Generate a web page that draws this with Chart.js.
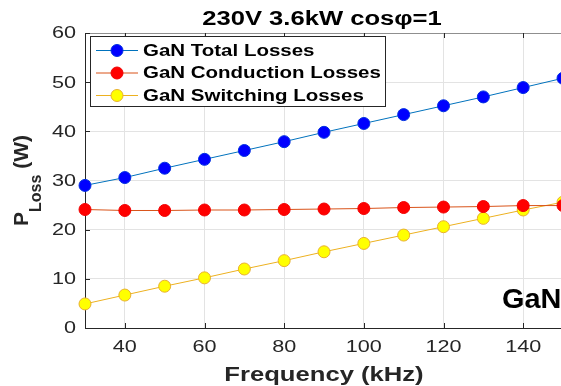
<!DOCTYPE html>
<html>
<head>
<meta charset="utf-8">
<script src="https://cdn.jsdelivr.net/npm/chart.js@4/dist/chart.umd.min.js"></script>
<style>
  html, body { margin: 0; padding: 0; background: #fff; overflow: hidden; }
  #wrap { width: 563px; height: 386px; }
</style>
</head>
<body>
<div id="wrap"><canvas id="c" width="563" height="386"></canvas></div>
<script>
/* ===== data ===== */
const freq = [30, 40, 50, 60, 70, 80, 90, 100, 110, 120, 130, 140, 150];
const totalLoss = [29.0, 30.6, 32.5, 34.3, 36.1, 37.9, 39.8, 41.6, 43.4, 45.2, 47.0, 48.9, 50.8];
const condLoss  = [24.1, 23.9, 23.9, 24.0, 24.0, 24.1, 24.2, 24.3, 24.5, 24.6, 24.7, 24.9, 24.9];
const swLoss    = [4.9, 6.7, 8.5, 10.2, 12.0, 13.7, 15.5, 17.2, 18.9, 20.6, 22.3, 24.0, 25.6];

const seriesNames = ["GaN Total Losses", "GaN Conduction Losses", "GaN Switching Losses"];
const xTicks = [40, 60, 80, 100, 120, 140];
const yTicks = [0, 10, 20, 30, 40, 50, 60];

const FONT = '"Liberation Sans", Arial, Helvetica, sans-serif';
const AXC = "#262626";

function pts(ys) {
  return freq.map((f, i) => ({ x: f, y: ys[i] }));
}

function ds(label, ys, line, fill, edge) {
  return {
    label: label,
    data: pts(ys),
    borderColor: line,
    borderWidth: 1,
    pointRadius: 6,
    pointBackgroundColor: fill,
    pointBorderColor: edge,
    pointBorderWidth: 1,
    clip: false,
    tension: 0
  };
}

// text stretched horizontally (the original renders wide glyphs)
function wideText(ctx, str, x, y, sx, align) {
  ctx.save();
  ctx.translate(x, y);
  ctx.scale(sx, 1);
  ctx.textAlign = align || "left";
  ctx.fillText(str, 0, 0);
  ctx.restore();
}

/* ===== extra drawing: frame, ticks, titles, legend ===== */
const decor = {
  id: "decor",
  beforeDatasetsDraw(chart) {
    const { ctx, chartArea: a, scales } = chart;
    ctx.save();
    // top box line
    ctx.strokeStyle = "#8f8f8f";
    ctx.lineWidth = 1;
    ctx.beginPath();
    ctx.moveTo(a.left, a.top + 0.5);
    ctx.lineTo(a.right, a.top + 0.5);
    ctx.stroke();
    // inward ticks
    ctx.strokeStyle = AXC;
    ctx.beginPath();
    xTicks.forEach(v => {
      const px = Math.round(scales.x.getPixelForValue(v)) + 0.5;
      ctx.moveTo(px, a.bottom); ctx.lineTo(px, a.bottom - 5);
      ctx.moveTo(px, a.top); ctx.lineTo(px, a.top + 5);
    });
    yTicks.forEach(v => {
      const py = Math.round(scales.y.getPixelForValue(v)) + 0.5;
      ctx.moveTo(a.left, py); ctx.lineTo(a.left + 5, py);
    });
    ctx.stroke();

    // tick labels
    ctx.fillStyle = AXC;
    ctx.font = "16px " + FONT;
    ctx.textBaseline = "middle";
    xTicks.forEach(v => {
      wideText(ctx, String(v), scales.x.getPixelForValue(v), a.bottom + 20, 1.35, "center");
    });
    yTicks.forEach(v => {
      wideText(ctx, String(v), a.left - 9, scales.y.getPixelForValue(v) + 1, 1.35, "right");
    });
    ctx.restore();
  },
  afterDraw(chart) {
    const { ctx, chartArea: a } = chart;
    ctx.save();
    ctx.fillStyle = "#000";
    ctx.textBaseline = "middle";
    // title
    ctx.font = "bold 20px " + FONT;
    wideText(ctx, "230V 3.6kW cosφ=1", 322, 19, 1.28, "center");

    // x title
    ctx.fillStyle = AXC;
    ctx.font = "bold 21px " + FONT;
    wideText(ctx, "Frequency (kHz)", 324, 375, 1.22, "center");

    // y title with subscript
    ctx.save();
    ctx.translate(28, (a.top + a.bottom) / 2);
    ctx.rotate(-Math.PI / 2);
    ctx.textAlign = "left";
    ctx.textBaseline = "alphabetic";
    const fBig = "bold 21px " + FONT, fSub = "bold 16px " + FONT;
    ctx.font = fBig; const wP = ctx.measureText("P").width;
    ctx.font = fSub; const wL = ctx.measureText("Loss").width;
    ctx.font = fBig; const wW = ctx.measureText(" (W)").width;
    let x0 = -(wP + wL + wW) / 2;
    ctx.font = fBig; ctx.fillText("P", x0, 0);
    ctx.font = fSub; ctx.fillText("Loss", x0 + wP, 13);
    ctx.font = fBig; ctx.fillText(" (W)", x0 + wP + wL, 0);
    ctx.restore();

    // "GaN" label
    ctx.fillStyle = "#000";
    ctx.font = "bold 28px " + FONT;
    ctx.textBaseline = "alphabetic";
    wideText(ctx, "GaN", 502, 308, 1.03, "left");

    // legend box
    const lx = 90.5, ly = 36.5, lw = 295, lh = 70;
    ctx.fillStyle = "#fff";
    ctx.fillRect(lx, ly, lw, lh);
    ctx.strokeStyle = AXC;
    ctx.lineWidth = 1;
    ctx.strokeRect(lx, ly, lw, lh);
    ctx.font = "bold 16px " + FONT;
    ctx.textBaseline = "middle";
    chart.data.datasets.forEach((d, i) => {
      const cy = 50.5 + i * 22.5;
      ctx.strokeStyle = d.borderColor;
      ctx.beginPath();
      ctx.moveTo(96, cy); ctx.lineTo(138, cy);
      ctx.stroke();
      ctx.beginPath();
      ctx.arc(117, cy, 6, 0, Math.PI * 2);
      ctx.fillStyle = d.pointBackgroundColor;
      ctx.fill();
      ctx.strokeStyle = d.pointBorderColor;
      ctx.stroke();
      ctx.fillStyle = "#000";
      wideText(ctx, d.label, 143, cy + 1, 1.28, "left");
    });
    ctx.restore();
  }
};

new Chart(document.getElementById("c"), {
  type: "line",
  data: {
    datasets: [
      ds(seriesNames[0], totalLoss, "#0072BD", "#0000FF", "#0030E0"),
      ds(seriesNames[1], condLoss, "#D95319", "#FF0000", "#F00000"),
      ds(seriesNames[2], swLoss, "#EDB120", "#FFFF00", "#E8B030")
    ]
  },
  options: {
    responsive: false,
    animation: false,
    devicePixelRatio: 1,
    layout: { autoPadding: false, padding: { top: 33, left: 0, right: 0, bottom: 0 } },
    plugins: { legend: { display: false }, title: { display: false }, tooltip: { enabled: false } },
    scales: {
      x: {
        type: "linear",
        min: 30,
        max: 150,
        afterFit: s => { s.height = 58; s.paddingLeft = 0; s.paddingRight = 0; },
        afterBuildTicks: s => { s.ticks = xTicks.map(v => ({ value: v })); },
        grid: { color: "#e3e3e3", drawTicks: false },
        border: { color: AXC, width: 1 },
        ticks: { display: false }
      },
      y: {
        min: 0,
        max: 60,
        afterFit: s => { s.width = 85; s.paddingTop = 0; s.paddingBottom = 0; },
        afterBuildTicks: s => { s.ticks = yTicks.map(v => ({ value: v })); },
        grid: { color: "#e3e3e3", drawTicks: false },
        border: { color: AXC, width: 1 },
        ticks: { display: false }
      }
    }
  },
  plugins: [decor]
});
</script>
</body>
</html>
